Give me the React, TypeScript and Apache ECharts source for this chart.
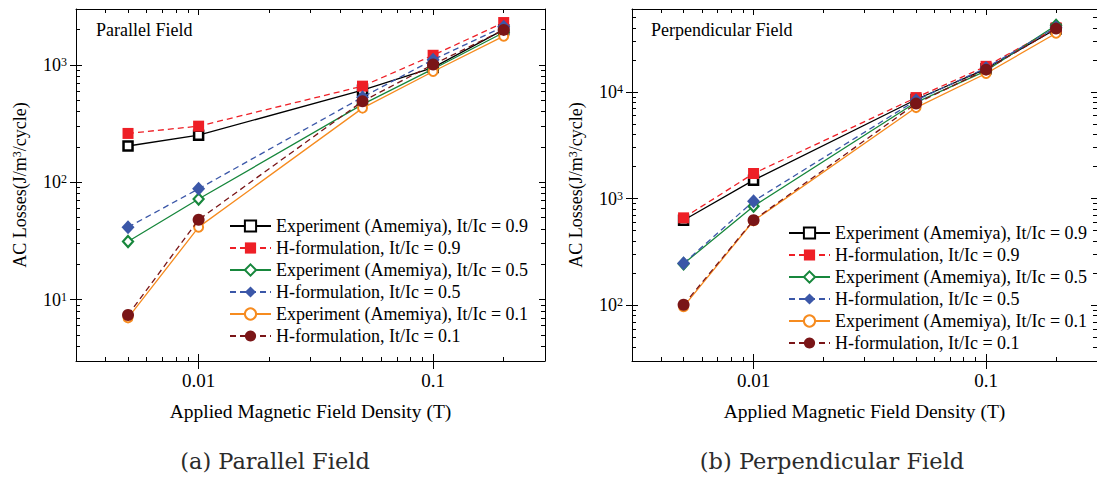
import React, { useEffect, useRef } from "react";
import * as echarts from "echarts";

// Applied field density (T)
const fieldB = [0.005, 0.01, 0.05, 0.1, 0.2];

// AC losses (J/m^3/cycle), parallel field
const parExp09 = [204, 252, 610, 950, 2000];
const parH09 = [261, 301, 660, 1210, 2300];
const parExp05 = [31.3, 72, 462, 925, 1890];
const parH05 = [41.5, 88, 532, 1110, 2120];
const parExp01 = [7.0, 41.5, 429, 880, 1760];
const parH01 = [7.4, 48, 490, 1010, 1990];

// AC losses (J/m^3/cycle), perpendicular field
const perExp09 = [627, 1490, 8500, 16500, 39000];
const perH09 = [660, 1720, 8860, 17400, 40000];
const perExp05 = [245, 850, 8000, 15800, 42200];
const perH05 = [247, 946, 8360, 16800, 40500];
const perExp01 = [97, 620, 7140, 14900, 35500];
const perH01 = [101, 628, 7780, 16200, 39300];

const seriesNames = [
  "Experiment (Amemiya), It/Ic = 0.9",
  "H-formulation, It/Ic = 0.9",
  "Experiment (Amemiya), It/Ic = 0.5",
  "H-formulation, It/Ic = 0.5",
  "Experiment (Amemiya), It/Ic = 0.1",
  "H-formulation, It/Ic = 0.1",
];

// Tick values
const xMajor = [0.01, 0.1];
const xMinor = [0.003, 0.004, 0.005, 0.006, 0.007, 0.008, 0.009, 0.02, 0.03, 0.04, 0.05, 0.06, 0.07, 0.08, 0.09, 0.2, 0.3];
const yParMajor = [10, 100, 1000];
const yParMinor = [3, 4, 5, 6, 7, 8, 9, 20, 30, 40, 50, 60, 70, 80, 90, 200, 300, 400, 500, 600, 700, 800, 900, 2000, 3000];
const yPerMajor = [100, 1000, 10000];
const yPerMinor = [30, 40, 50, 60, 70, 80, 90, 200, 300, 400, 500, 600, 700, 800, 900, 2000, 3000, 4000, 5000, 6000, 7000, 8000, 9000, 20000, 30000, 40000, 50000, 60000];

const FONT = "Liberation Serif";
const CAPTION_FONT = "DejaVu Serif";

const markStyles = [
  { color: "#000000", symbol: "rect", hollow: true, dashed: false, size: 9, bw: 2.5 },
  { color: "#ee1f26", symbol: "rect", hollow: false, dashed: true, size: 11, bw: 0 },
  { color: "#17873c", symbol: "diamond", hollow: true, dashed: false, size: [10, 11], bw: 2.2 },
  { color: "#3b57a8", symbol: "diamond", hollow: false, dashed: true, size: [13, 14], bw: 0 },
  { color: "#f68b1f", symbol: "circle", hollow: true, dashed: false, size: 9, bw: 2 },
  { color: "#7a1517", symbol: "circle", hollow: false, dashed: true, size: 12, bw: 0 },
];

const tickLine = { color: "#000", width: 1 };

function xAxesFor(grid: number) {
  const base = {
    type: "log",
    logBase: 10,
    gridIndex: grid,
    min: 0.003,
    max: 0.3,
    splitLine: { show: false },
    axisLabel: { show: false },
    axisLine: { show: false, onZero: false },
  };
  return [
    {
      ...base,
      position: "bottom",
      axisLine: { show: true, onZero: false, lineStyle: tickLine },
      axisTick: { show: true, customValues: xMajor, inside: false, length: 8, lineStyle: tickLine },
      axisLabel: {
        show: true,
        customValues: xMajor,
        formatter: (v: number) => String(parseFloat(v.toPrecision(3))),
        margin: 10,
        fontFamily: FONT,
        fontSize: 19,
        color: "#000",
      },
      name: "Applied Magnetic Field Density (T)",
      nameLocation: "middle",
      nameGap: 40,
      nameTextStyle: { fontFamily: FONT, fontSize: 19.5, color: "#000" },
    },
    { ...base, position: "bottom", axisTick: { show: true, customValues: xMajor, inside: true, length: 7, lineStyle: tickLine } },
    { ...base, position: "bottom", axisTick: { show: true, customValues: xMinor, inside: true, length: 4, lineStyle: tickLine } },
    {
      ...base,
      position: "top",
      axisLine: { show: true, onZero: false, lineStyle: tickLine },
      axisTick: { show: true, customValues: xMajor, inside: true, length: 6, lineStyle: tickLine },
    },
    { ...base, position: "top", axisTick: { show: true, customValues: xMinor, inside: true, length: 4, lineStyle: tickLine } },
  ];
}

function yAxesFor(grid: number, min: number, max: number, major: number[], minor: number[], nameGap: number) {
  const base = {
    type: "log",
    logBase: 10,
    gridIndex: grid,
    min,
    max,
    splitLine: { show: false },
    axisLabel: { show: false },
    axisLine: { show: false, onZero: false },
  };
  return [
    {
      ...base,
      position: "left",
      axisLine: { show: true, onZero: false, lineStyle: tickLine },
      axisTick: { show: true, customValues: major, inside: false, length: 6, lineStyle: tickLine },
      axisLabel: {
        show: true,
        customValues: major,
        margin: 9,
        formatter: (v: number) => `{b|10}{s|${Math.round(Math.log10(v))}}`,
        rich: {
          b: { fontFamily: FONT, fontSize: 18, color: "#000" },
          s: { fontFamily: FONT, fontSize: 12, color: "#000", verticalAlign: "top" },
        },
      },
      name: "{t|AC Losses(J/m}{s|3}{t|/cycle)}",
      nameLocation: "middle",
      nameGap,
      nameTextStyle: {
        rich: {
          t: { fontFamily: FONT, fontSize: 18, color: "#000" },
          s: { fontFamily: FONT, fontSize: 12, color: "#000", verticalAlign: "top" },
        },
      },
    },
    { ...base, position: "left", axisTick: { show: true, customValues: major, inside: true, length: 6, lineStyle: tickLine } },
    { ...base, position: "left", axisTick: { show: true, customValues: minor, inside: true, length: 4, lineStyle: tickLine } },
    {
      ...base,
      position: "right",
      axisLine: { show: true, onZero: false, lineStyle: tickLine },
      axisTick: { show: true, customValues: major, inside: true, length: 6, lineStyle: tickLine },
    },
    { ...base, position: "right", axisTick: { show: true, customValues: minor, inside: true, length: 4, lineStyle: tickLine } },
  ];
}

function seriesFor(axisIndex: number, sets: number[][]) {
  return sets.map((vals, i) => {
    const m = markStyles[i];
    return {
      type: "line",
      name: seriesNames[i],
      xAxisIndex: axisIndex,
      yAxisIndex: axisIndex,
      data: fieldB.map((b, k) => [b, vals[k]]),
      symbol: m.symbol,
      symbolSize: m.size,
      showAllSymbol: true,
      lineStyle: { color: m.color, width: 1.3, type: m.dashed ? [6, 4] : "solid" },
      itemStyle: m.hollow
        ? { color: "#ffffff", borderColor: m.color, borderWidth: m.bw, opacity: 1 }
        : { color: m.color, borderWidth: 0, opacity: 1 },
      z: 2 + i,
    };
  });
}

function legendAt(left: number, top: number) {
  return {
    orient: "vertical",
    left,
    top,
    itemWidth: 41,
    itemHeight: 14,
    itemGap: 4,
    padding: 0,
    data: seriesNames,
    selectedMode: false,
    textStyle: { fontFamily: FONT, fontSize: 18, color: "#000", lineHeight: 17 },
  };
}

export default function App() {
  const ref = useRef<HTMLDivElement>(null);

  useEffect(() => {
    if (!ref.current) return;
    const chart = echarts.init(ref.current, undefined, { renderer: "svg" });
    chart.setOption({
      animation: false,
      backgroundColor: "#ffffff",
      textStyle: { fontFamily: FONT },
      grid: [
        { left: 76, top: 9, width: 469, height: 352, containLabel: false },
        { left: 632, top: 9, width: 468, height: 352, containLabel: false },
      ],
      xAxis: [...xAxesFor(0), ...xAxesFor(1)],
      yAxis: [
        ...yAxesFor(0, 3, 3000, yParMajor, yParMinor, 47),
        ...yAxesFor(1, 30, 60000, yPerMajor, yPerMinor, 47),
      ],
      legend: [legendAt(229, 217), legendAt(788, 224)],
      series: [
        ...seriesFor(0, [parExp09, parH09, parExp05, parH05, parExp01, parH01]),
        ...seriesFor(5, [perExp09, perH09, perExp05, perH05, perExp01, perH01]),
      ],
      graphic: [
        { type: "text", left: 96, top: 21, style: { text: "Parallel Field", fontFamily: FONT, fontSize: 18, fill: "#000" } },
        { type: "text", left: 651, top: 21, style: { text: "Perpendicular Field", fontFamily: FONT, fontSize: 18, fill: "#000" } },
        {
          type: "text",
          x: 275,
          y: 461,
          style: { text: "(a) Parallel Field", fontFamily: CAPTION_FONT, fontSize: 22.5, fill: "#2b2b2b", align: "center", verticalAlign: "middle" },
        },
        {
          type: "text",
          x: 832,
          y: 461,
          style: { text: "(b) Perpendicular Field", fontFamily: CAPTION_FONT, fontSize: 22.5, fill: "#2b2b2b", align: "center", verticalAlign: "middle" },
        },
      ],
    });
    return () => chart.dispose();
  }, []);

  return (
    <div
      ref={ref}
      style={{ position: "fixed", left: 0, top: 0, width: 1097, height: 478, background: "#fff" }}
    />
  );
}
